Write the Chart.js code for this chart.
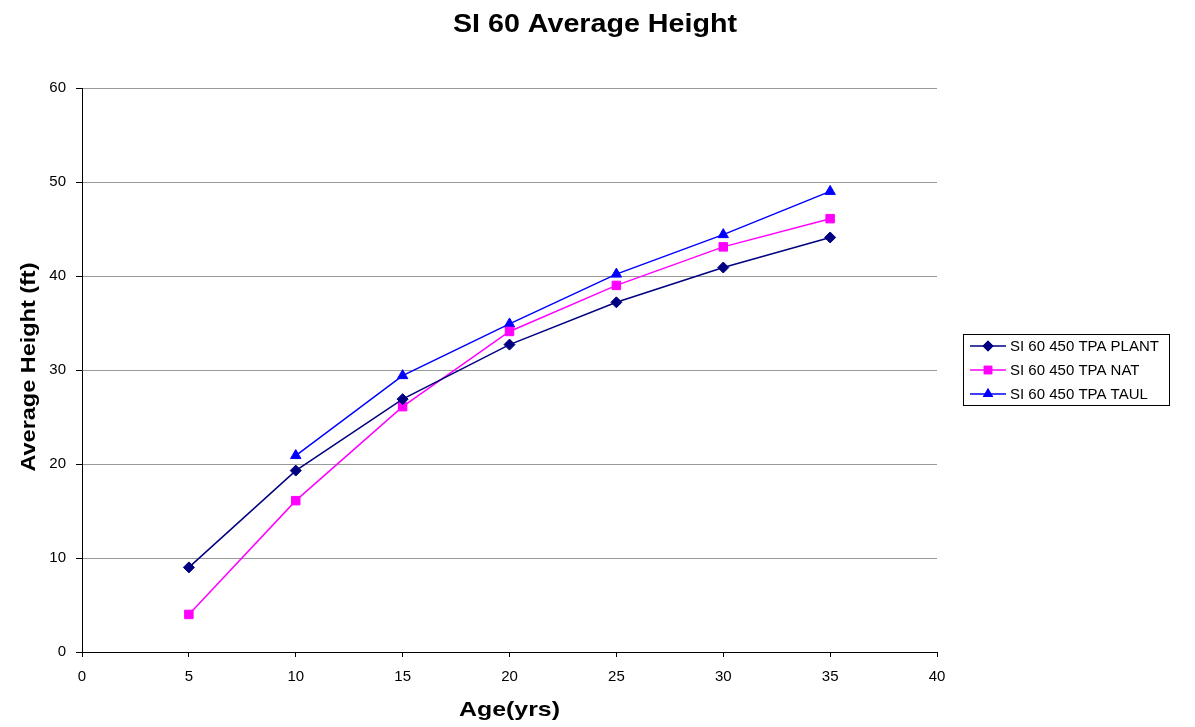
<!DOCTYPE html>
<html><head><meta charset="utf-8">
<script src="https://cdn.jsdelivr.net/npm/chart.js@4.4.1/dist/chart.umd.min.js"></script>
<style>html,body{margin:0;padding:0;background:#fff}#wrap{width:1195px;height:727px;position:relative}</style>
</head><body><div id="wrap"><canvas id="c" width="1195" height="727"></canvas></div>
<script>
const ages = [5, 10, 15, 20, 25, 30, 35];
const plantHeights = [9.0, 19.3, 26.9, 32.7, 37.2, 40.9, 44.1];
const natHeights = [4.0, 16.1, 26.1, 34.1, 39.0, 43.1, 46.1];
const taulHeights = [null, 20.9, 29.4, 34.9, 40.2, 44.4, 49.0];
const seriesNames = ['SI 60 450 TPA PLANT', 'SI 60 450 TPA NAT', 'SI 60 450 TPA TAUL'];
const chartTitle = 'SI 60 Average Height';
const xTitle = 'Age(yrs)';
const yTitle = 'Average Height (ft)';
const FONT = 'Arial, "Liberation Sans", sans-serif';

function pts(vals){ return ages.map((a,i)=>({x:a,y:vals[i]})).filter(p=>p.y!==null); }

const datasets = [
  {label:seriesNames[0], data:pts(plantHeights), borderColor:'#000080', backgroundColor:'#000080', pointStyle:'rectRot', pointRadius:5.5, borderWidth:1.5},
  {label:seriesNames[1], data:pts(natHeights), borderColor:'#FF00FF', backgroundColor:'#FF00FF', pointStyle:'rect', pointRadius:6, borderWidth:1.5},
  {label:seriesNames[2], data:pts(taulHeights), borderColor:'#0000FF', backgroundColor:'#0000FF', pointStyle:'triangle', pointRadius:6, borderWidth:1.5}
];
datasets.forEach(d=>{d.pointBorderWidth=1;d.pointHoverRadius=d.pointRadius;d.tension=0;d.fill=false;});

function stretchedText(ctx, text, cx, cy, targetW){
  const w = ctx.measureText(text).width;
  const sx = targetW / w;
  ctx.save();
  ctx.translate(cx, cy);
  ctx.scale(sx, 1);
  ctx.fillText(text, 0, 0);
  ctx.restore();
}

const decor = {
  id:'decor',
  afterDraw(chart){
    const ctx = chart.ctx, ca = chart.chartArea;
    ctx.save();
    ctx.fillStyle = '#000';
    ctx.textAlign = 'center'; ctx.textBaseline = 'middle';
    ctx.font = 'bold 25px ' + FONT;
    stretchedText(ctx, chartTitle, 595, 25, 284);
    ctx.font = 'bold 21px ' + FONT;
    stretchedText(ctx, xTitle, (ca.left+ca.right)/2, 710, 101);
    ctx.translate(29, 367);
    ctx.rotate(-Math.PI/2);
    stretchedText(ctx, yTitle, 0, 0, 209);
    ctx.restore();
    // legend
    ctx.save();
    const lx = 963.5, ly = 334.5, lw = 206, lh = 71;
    ctx.strokeStyle = '#000'; ctx.lineWidth = 1;
    ctx.strokeRect(lx, ly, lw, lh);
    ctx.font = '15px ' + FONT;
    ctx.textAlign = 'left'; ctx.textBaseline = 'middle';
    chart.data.datasets.forEach((d,i)=>{
      const y = 346 + i*24;
      ctx.strokeStyle = d.borderColor; ctx.lineWidth = 1.5;
      ctx.beginPath(); ctx.moveTo(970, y); ctx.lineTo(1006, y); ctx.stroke();
      ctx.fillStyle = d.backgroundColor;
      Chart.helpers.drawPoint(ctx, {pointStyle:d.pointStyle, radius:d.pointRadius, borderWidth:0}, 988, y);
      ctx.fill();
      ctx.fillStyle = '#000';
      ctx.fillText(d.label, 1010, y+1);
    });
    ctx.restore();
  }
};

new Chart(document.getElementById('c'), {
  type:'line',
  data:{datasets},
  options:{
    responsive:false, animation:false, devicePixelRatio:1,
    layout:{padding:{left:0, right:258, top:88, bottom:0}},
    plugins:{legend:{display:false}, title:{display:false}, tooltip:{enabled:false}},
    scales:{
      x:{type:'linear', min:0, max:40,
        ticks:{stepSize:5, color:'#000', font:{family:FONT, size:15}, padding:11, maxRotation:0},
        grid:{drawOnChartArea:false, drawTicks:true, tickLength:5, tickColor:'#000'},
        border:{color:'#000', width:1},
        afterFit(s){ s.height = 75; }
      },
      y:{min:0, max:60,
        ticks:{stepSize:10, color:'#000', font:{family:FONT, size:15}, padding:10},
        grid:{color:'#999', lineWidth:1, drawTicks:true, tickLength:6, tickColor:'#000'},
        border:{color:'#000', width:1},
        afterFit(s){ s.width = 82; }
      }
    }
  },
  plugins:[decor]
});
</script></body></html>
